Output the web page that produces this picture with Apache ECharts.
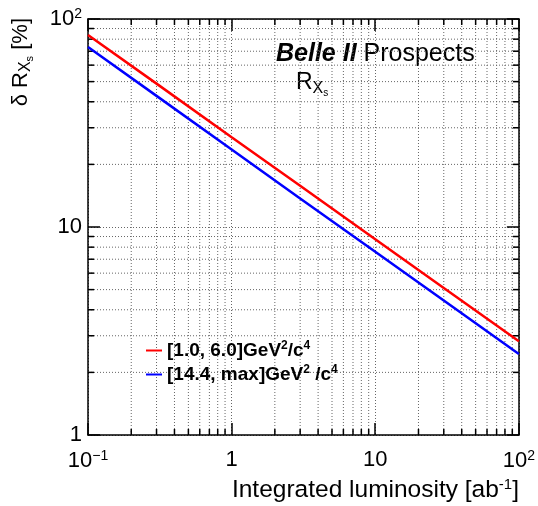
<!DOCTYPE html>
<html>
<head>
<meta charset="utf-8">
<script src="https://cdn.jsdelivr.net/npm/echarts@6/dist/echarts.min.js"></script>
<style>
  html, body { margin: 0; padding: 0; background: #fff; }
  #chart { width: 538px; height: 506px; }
</style>
</head>
<body>
<div id="chart"></div>
<script>
// integrated luminosity [ab^-1]
const lumi = [0.1, 0.3, 1, 3, 10, 30, 100];
// delta R_Xs [%] for the two q^2 bins
const lowQ2 = [83.8, 48.9, 27.0, 15.8, 8.73, 5.09, 2.82];
const highQ2 = [73.3, 42.7, 23.6, 13.7, 7.6, 4.43, 2.45];

const seriesNames = ["low", "high"];
const seriesColors = ["#ff0000", "#0000ff"];

// minor tick positions (decades handled by the axes)
const xMinor = [0.2, 0.3, 0.4, 0.5, 0.6, 0.7, 0.8, 0.9, 2, 3, 4, 5, 6, 7, 8, 9, 20, 30, 40, 50, 60, 70, 80, 90];
const yMinor = [2, 3, 4, 5, 6, 7, 8, 9, 20, 30, 40, 50, 60, 70, 80, 90];

const FONT = "Liberation Sans";
const GRID_DASH = [1, 2];
const GRID_COLOR = "#666";

const chart = echarts.init(document.getElementById("chart"), null, { renderer: "canvas" });

const sup = { fontSize: 14, fontFamily: FONT, color: "#000", padding: [0, 0, 10, 0] };
const tickLabel = (v) => {
  if (Math.abs(v - 0.1) < 1e-9) return "10{sup|−1}";
  if (Math.abs(v - 1) < 1e-9) return "1";
  if (Math.abs(v - 10) < 1e-9) return "10";
  if (Math.abs(v - 100) < 1e-9) return "10{sup|2}";
  return "";
};

const axisBase = {
  type: "log",
  logBase: 10,
  axisLine: { show: true, onZero: false, lineStyle: { color: "#000", width: 1.5 } },
  axisTick: { show: true, inside: true, length: 12, lineStyle: { color: "#000", width: 1.5 } },
  minorTick: { show: false },
  splitLine: { show: false }
};

const dash = { stroke: GRID_COLOR, lineWidth: 1, lineDash: GRID_DASH };
const solid = { stroke: "#000", lineWidth: 1.5 };

const legendLabels = {
  low: "[1.0, 6.0]GeV{sup|2}/c{sup|4}",
  high: "[14.4, max]GeV{sup|2} /c{sup|4}"
};

chart.setOption({
  animation: false,
  backgroundColor: "#fff",
  grid: { left: 88, right: 18, top: 19, bottom: 71, containLabel: false },
  xAxis: [
    Object.assign({}, axisBase, {
      position: "bottom", min: 0.1, max: 100,
      splitLine: { show: true, lineStyle: { color: GRID_COLOR, type: GRID_DASH, width: 1 } },
      axisLabel: {
        show: true, margin: 14, formatter: tickLabel,
        fontFamily: FONT, fontSize: 22, color: "#000",
        rich: { sup: sup }
      }
    }),
    Object.assign({}, axisBase, { position: "top", min: 0.1, max: 100, axisLabel: { show: false } })
  ],
  yAxis: [
    Object.assign({}, axisBase, {
      position: "left", min: 1, max: 100,
      splitLine: { show: true, lineStyle: { color: GRID_COLOR, type: GRID_DASH, width: 1 } },
      axisLabel: {
        show: true, margin: 6, formatter: tickLabel,
        fontFamily: FONT, fontSize: 22, color: "#000",
        rich: { sup: sup }
      }
    }),
    Object.assign({}, axisBase, { position: "right", min: 1, max: 100, axisLabel: { show: false } })
  ],
  legend: {
    orient: "vertical",
    left: 141,
    top: 335,
    itemGap: 4,
    itemWidth: 16,
    itemHeight: 2,
    icon: "rect",
    data: seriesNames,
    formatter: (name) => legendLabels[name],
    textStyle: {
      fontFamily: FONT, fontSize: 19, fontWeight: "bold", color: "#000",
      rich: { sup: { fontSize: 12, fontWeight: "bold", fontFamily: FONT, color: "#000", padding: [0, 0, 9, 0] } }
    }
  },
  graphic: [
    {
      type: "text", x: 21, y: 18, rotation: Math.PI / 2,
      style: {
        text: "δ R{sub|X}{sub2|s} [%]",
        align: "right", verticalAlign: "middle",
        font: "22px " + FONT, fill: "#000",
        rich: {
          sub: { fontSize: 16, fontFamily: FONT, padding: [10, 0, 0, 0] },
          sub2: { fontSize: 11, fontFamily: FONT, padding: [18, 0, 0, 0] }
        }
      }
    },
    {
      type: "text", x: 519, y: 490,
      style: {
        text: "Integrated luminosity [ab{sup|-1}]",
        align: "right", verticalAlign: "middle",
        font: "24.5px " + FONT, fill: "#000",
        rich: { sup: { fontSize: 15, fontFamily: FONT, padding: [0, 0, 11, 0] } }
      }
    },
    {
      type: "text", x: 276, y: 54,
      style: {
        text: "{b|Belle II} Prospects",
        align: "left", verticalAlign: "middle",
        font: "25px " + FONT, fill: "#000",
        rich: { b: { fontSize: 25, fontFamily: FONT, fontWeight: "bold", fontStyle: "italic" } }
      }
    },
    {
      type: "text", x: 296, y: 83,
      style: {
        text: "R{sub|X}{sub2|s}",
        align: "left", verticalAlign: "middle",
        font: "23px " + FONT, fill: "#000",
        rich: {
          sub: { fontSize: 16, fontFamily: FONT, padding: [11, 0, 0, 0] },
          sub2: { fontSize: 10, fontFamily: FONT, padding: [20, 0, 0, 0] }
        }
      }
    }
  ],
  series: [
    {
      type: "custom", name: "xminor", silent: true, z: 1,
      data: xMinor.map((v) => [v, 1]),
      renderItem: (params, api) => {
        const v = api.value(0);
        const a = api.coord([v, 1]);
        const b = api.coord([v, 100]);
        return {
          type: "group",
          children: [
            { type: "line", shape: { x1: a[0], y1: a[1], x2: b[0], y2: b[1] }, style: dash },
            { type: "line", shape: { x1: a[0], y1: a[1], x2: a[0], y2: a[1] - 6 }, style: solid },
            { type: "line", shape: { x1: b[0], y1: b[1], x2: b[0], y2: b[1] + 6 }, style: solid }
          ]
        };
      }
    },
    {
      type: "custom", name: "yminor", silent: true, z: 1,
      data: yMinor.map((v) => [0.1, v]),
      renderItem: (params, api) => {
        const v = api.value(1);
        const a = api.coord([0.1, v]);
        const b = api.coord([100, v]);
        return {
          type: "group",
          children: [
            { type: "line", shape: { x1: a[0], y1: a[1], x2: b[0], y2: b[1] }, style: dash },
            { type: "line", shape: { x1: a[0], y1: a[1], x2: a[0] + 6, y2: a[1] }, style: solid },
            { type: "line", shape: { x1: b[0], y1: b[1], x2: b[0] - 6, y2: b[1] }, style: solid }
          ]
        };
      }
    },
    {
      name: seriesNames[0], type: "line", z: 5,
      data: lumi.map((x, i) => [x, lowQ2[i]]),
      showSymbol: false, symbol: "none",
      lineStyle: { color: seriesColors[0], width: 2.5 },
      itemStyle: { color: seriesColors[0] }
    },
    {
      name: seriesNames[1], type: "line", z: 5,
      data: lumi.map((x, i) => [x, highQ2[i]]),
      showSymbol: false, symbol: "none",
      lineStyle: { color: seriesColors[1], width: 2.5 },
      itemStyle: { color: seriesColors[1] }
    }
  ]
});
</script>
</body>
</html>
